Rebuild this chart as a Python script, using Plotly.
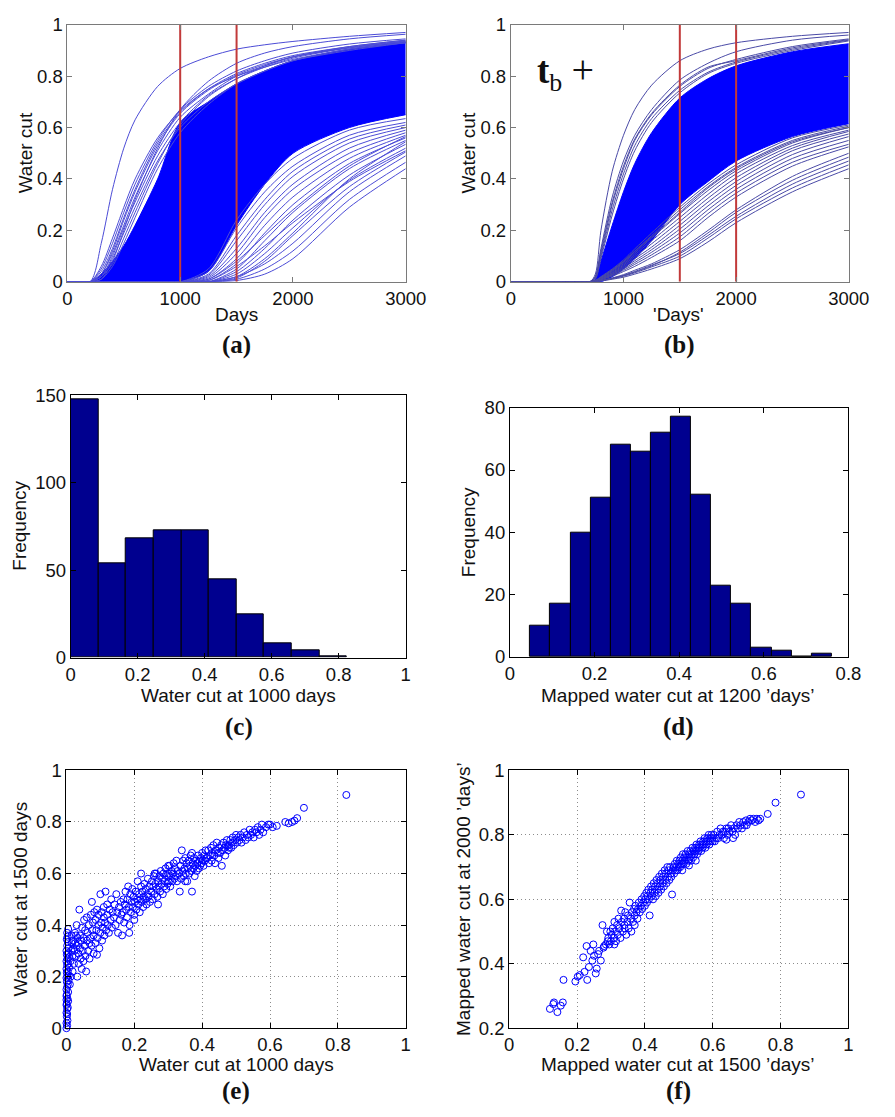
import plotly.graph_objects as go

W, H = 895, 1117

# ---------------- data ----------------
# (a) water-cut curves vs days
A_DAYS = [0, 200, 300, 400, 500, 600, 800, 1000, 1250, 1500, 1750, 2000, 2500, 3000]
A_BAND_LOW = [0, 0, 0, 0, 0, 0, 0, 0, 0.04, 0.22, 0.38, 0.50, 0.60, 0.65]
A_BAND_HIGH = [0, 0, 0.03, 0.08, 0.14, 0.22, 0.40, 0.62, 0.70, 0.77, 0.82, 0.86, 0.905, 0.932]
A_UPPER_CURVES = [
    [0, 0, 0.15, 0.36, 0.52, 0.63, 0.76, 0.83, 0.875, 0.905, 0.922, 0.935, 0.955, 0.97],
    [0, 0, 0.01, 0.08, 0.20, 0.32, 0.52, 0.67, 0.78, 0.85, 0.89, 0.915, 0.945, 0.963],
    [0, 0, 0.02, 0.09, 0.19, 0.29, 0.47, 0.60, 0.70, 0.77, 0.82, 0.86, 0.90, 0.93],
    [0, 0, 0.03, 0.11, 0.22, 0.33, 0.51, 0.64, 0.73, 0.80, 0.84, 0.875, 0.91, 0.935],
    [0, 0, 0.01, 0.06, 0.15, 0.25, 0.44, 0.58, 0.69, 0.77, 0.82, 0.86, 0.905, 0.93],
    [0, 0, 0.04, 0.13, 0.25, 0.36, 0.54, 0.66, 0.75, 0.81, 0.85, 0.88, 0.915, 0.94],
    [0, 0, 0.02, 0.10, 0.21, 0.31, 0.49, 0.62, 0.725, 0.79, 0.835, 0.87, 0.91, 0.935],
    [0, 0, 0.05, 0.15, 0.27, 0.38, 0.55, 0.67, 0.76, 0.82, 0.86, 0.89, 0.925, 0.945],
    [0, 0, 0.03, 0.12, 0.24, 0.35, 0.53, 0.655, 0.745, 0.805, 0.845, 0.875, 0.912, 0.937],
    [0, 0, 0.02, 0.07, 0.17, 0.27, 0.46, 0.61, 0.72, 0.79, 0.84, 0.875, 0.915, 0.94],
    [0, 0, 0.06, 0.17, 0.29, 0.40, 0.56, 0.665, 0.75, 0.80, 0.835, 0.865, 0.905, 0.93],
]
A_LOWER_CURVES = [
    [0, 0, 0, 0, 0, 0, 0, 0, 0, 0.005, 0.03, 0.09, 0.29, 0.44],
    [0, 0, 0, 0, 0, 0, 0, 0, 0, 0.01, 0.05, 0.12, 0.32, 0.465],
    [0, 0, 0, 0, 0, 0, 0, 0, 0, 0.02, 0.07, 0.15, 0.35, 0.49],
    [0, 0, 0, 0, 0, 0, 0, 0, 0, 0.015, 0.08, 0.18, 0.37, 0.505],
    [0, 0, 0, 0, 0, 0, 0, 0, 0, 0.03, 0.11, 0.21, 0.395, 0.52],
    [0, 0, 0, 0, 0, 0, 0, 0, 0, 0.04, 0.13, 0.24, 0.415, 0.535],
    [0, 0, 0, 0, 0, 0, 0, 0, 0, 0.05, 0.16, 0.27, 0.44, 0.55],
    [0, 0, 0, 0, 0, 0, 0, 0, 0.005, 0.07, 0.19, 0.30, 0.46, 0.56],
    [0, 0, 0, 0, 0, 0, 0, 0, 0.01, 0.09, 0.22, 0.33, 0.48, 0.57],
    [0, 0, 0, 0, 0, 0, 0, 0, 0.015, 0.11, 0.25, 0.36, 0.50, 0.58],
    [0, 0, 0, 0, 0, 0, 0, 0, 0.02, 0.13, 0.27, 0.38, 0.52, 0.59],
    [0, 0, 0, 0, 0, 0, 0, 0, 0.025, 0.16, 0.30, 0.41, 0.54, 0.60],
    [0, 0, 0, 0, 0, 0, 0, 0, 0.03, 0.18, 0.32, 0.43, 0.555, 0.61],
    [0, 0, 0, 0, 0, 0, 0, 0, 0.04, 0.21, 0.35, 0.45, 0.57, 0.62],
    [0, 0, 0, 0, 0, 0, 0, 0, 0.005, 0.06, 0.14, 0.23, 0.39, 0.51],
    [0, 0, 0, 0, 0, 0, 0, 0, 0, 0.02, 0.09, 0.19, 0.40, 0.545],
    [0, 0, 0, 0, 0, 0, 0, 0, 0.01, 0.08, 0.18, 0.28, 0.45, 0.565],
    [0, 0, 0, 0, 0, 0, 0, 0, 0.05, 0.24, 0.38, 0.48, 0.59, 0.635],
]
A_MARK_DAYS = [1000, 1500]

# (b) water-cut curves vs mapped 'days'
B_DAYS = [0, 700, 750, 800, 900, 1000, 1100, 1250, 1500, 1750, 2000, 2500, 3000]
B_BAND_LOW = [0, 0, 0, 0, 0.02, 0.05, 0.09, 0.16, 0.30, 0.39, 0.47, 0.565, 0.615]
B_BAND_HIGH = [0, 0, 0.01, 0.08, 0.22, 0.35, 0.46, 0.58, 0.715, 0.79, 0.84, 0.895, 0.926]
B_UPPER_CURVES = [
    [0, 0, 0.03, 0.20, 0.43, 0.57, 0.67, 0.765, 0.86, 0.905, 0.93, 0.955, 0.97],
    [0, 0, 0.02, 0.13, 0.33, 0.47, 0.57, 0.67, 0.785, 0.85, 0.895, 0.94, 0.96],
    [0, 0, 0.02, 0.11, 0.30, 0.44, 0.55, 0.65, 0.76, 0.83, 0.865, 0.915, 0.945],
    [0, 0, 0.015, 0.10, 0.28, 0.42, 0.53, 0.635, 0.745, 0.815, 0.855, 0.905, 0.94],
    [0, 0, 0.02, 0.12, 0.31, 0.45, 0.555, 0.655, 0.765, 0.835, 0.86, 0.91, 0.942],
    [0, 0, 0.01, 0.09, 0.26, 0.40, 0.51, 0.62, 0.735, 0.81, 0.85, 0.90, 0.937],
]
B_LOWER_CURVES = [
    [0, 0, 0, 0.003, 0.01, 0.018, 0.03, 0.05, 0.09, 0.155, 0.23, 0.35, 0.44],
    [0, 0, 0, 0.004, 0.012, 0.022, 0.035, 0.058, 0.10, 0.17, 0.245, 0.365, 0.455],
    [0, 0, 0, 0.005, 0.014, 0.025, 0.04, 0.065, 0.11, 0.18, 0.255, 0.38, 0.47],
    [0, 0, 0, 0.004, 0.013, 0.024, 0.038, 0.062, 0.115, 0.19, 0.27, 0.395, 0.485],
    [0, 0, 0, 0.005, 0.015, 0.028, 0.045, 0.07, 0.125, 0.20, 0.28, 0.41, 0.50],
    [0, 0, 0.002, 0.008, 0.022, 0.04, 0.06, 0.095, 0.16, 0.25, 0.33, 0.45, 0.525],
    [0, 0, 0.002, 0.009, 0.025, 0.045, 0.068, 0.105, 0.175, 0.265, 0.345, 0.465, 0.535],
    [0, 0, 0.003, 0.01, 0.028, 0.05, 0.075, 0.115, 0.19, 0.28, 0.36, 0.48, 0.55],
    [0, 0, 0.003, 0.011, 0.03, 0.055, 0.082, 0.125, 0.205, 0.295, 0.375, 0.495, 0.565],
    [0, 0, 0.003, 0.012, 0.033, 0.06, 0.09, 0.135, 0.22, 0.31, 0.39, 0.51, 0.575],
    [0, 0, 0.004, 0.013, 0.036, 0.065, 0.098, 0.148, 0.235, 0.325, 0.405, 0.52, 0.585],
    [0, 0, 0.004, 0.015, 0.04, 0.07, 0.105, 0.16, 0.25, 0.34, 0.42, 0.53, 0.59],
    [0, 0, 0.004, 0.016, 0.043, 0.075, 0.112, 0.17, 0.265, 0.355, 0.432, 0.54, 0.60],
    [0, 0, 0.005, 0.018, 0.047, 0.08, 0.12, 0.18, 0.28, 0.37, 0.445, 0.55, 0.605],
    [0, 0, 0.005, 0.02, 0.05, 0.085, 0.128, 0.19, 0.29, 0.38, 0.455, 0.56, 0.61],
    [0, 0, 0.005, 0.017, 0.045, 0.078, 0.118, 0.175, 0.27, 0.365, 0.44, 0.545, 0.60],
]
B_MARK_DAYS = [1500, 2000]

# (c) histogram: water cut at 1000 days
C_EDGES = [0, 0.0825, 0.165, 0.2475, 0.33, 0.4125, 0.495, 0.5775, 0.66, 0.7425, 0.825]
C_COUNTS = [148, 54, 68, 73, 73, 45, 25, 8, 4, 1]

# (d) histogram: mapped water cut at 1200 'days'
D_EDGES = [0.048, 0.0955, 0.143, 0.1905, 0.238, 0.2855, 0.333, 0.3805, 0.428,
           0.4755, 0.523, 0.5705, 0.618, 0.6655, 0.713, 0.7605]
D_COUNTS = [10, 17, 40, 51, 68, 66, 72, 77, 52, 23, 17, 3, 2, 0, 1]

# (e) scatter: water cut at 1000 days vs 1500 days
E_POINTS = [
    (0.0, 0.0), (0.002, 0.01), (0.0, 0.02), (0.003, 0.03), (0.001, 0.045), (0.0, 0.06), (0.002, 0.075),
    (0.004, 0.08), (0.001, 0.095), (0.0, 0.11), (0.003, 0.115), (0.001, 0.13), (0.005, 0.14), (0.0, 0.15),
    (0.002, 0.16), (0.004, 0.17), (0.001, 0.18), (0.006, 0.185), (0.0, 0.195), (0.003, 0.2), (0.007, 0.205),
    (0.001, 0.215), (0.004, 0.22), (0.0, 0.23), (0.008, 0.235), (0.002, 0.245), (0.005, 0.25), (0.0, 0.26),
    (0.003, 0.27), (0.007, 0.275), (0.001, 0.285), (0.004, 0.29), (0.0, 0.3), (0.006, 0.31), (0.002, 0.32),
    (0.004, 0.335), (0.001, 0.345), (0.003, 0.355), (0.002, 0.37), (0.005, 0.385), (0.0, 0.125), (0.002, 0.055),
    (0.0, 0.09), (0.005, 0.105),
    (0.01, 0.17), (0.012, 0.2), (0.012, 0.26), (0.014, 0.3), (0.015, 0.33), (0.015, 0.36), (0.018, 0.22),
    (0.018, 0.28), (0.02, 0.31), (0.02, 0.34), (0.022, 0.25), (0.024, 0.3), (0.025, 0.37), (0.026, 0.33),
    (0.028, 0.28), (0.03, 0.32), (0.03, 0.4), (0.032, 0.2), (0.033, 0.35), (0.035, 0.29), (0.036, 0.33),
    (0.038, 0.46), (0.04, 0.31), (0.04, 0.36), (0.042, 0.27), (0.044, 0.34), (0.045, 0.23), (0.046, 0.39),
    (0.048, 0.3), (0.05, 0.35), (0.052, 0.42), (0.054, 0.32), (0.055, 0.38), (0.056, 0.28), (0.058, 0.22),
    (0.06, 0.34), (0.06, 0.43), (0.062, 0.37), (0.064, 0.3), (0.066, 0.4), (0.068, 0.27), (0.07, 0.35),
    (0.072, 0.44), (0.074, 0.32), (0.075, 0.49), (0.076, 0.38), (0.078, 0.41), (0.08, 0.29), (0.08, 0.36),
    (0.082, 0.45), (0.05, 0.26), (0.028, 0.36), (0.036, 0.25), (0.068, 0.33),
    (0.085, 0.33), (0.086, 0.42), (0.088, 0.38), (0.09, 0.46), (0.09, 0.285), (0.092, 0.35), (0.094, 0.4),
    (0.095, 0.44), (0.097, 0.31), (0.1, 0.37), (0.1, 0.52), (0.102, 0.41), (0.104, 0.45), (0.105, 0.34),
    (0.107, 0.39), (0.11, 0.43), (0.11, 0.47), (0.112, 0.36), (0.114, 0.41), (0.115, 0.53), (0.117, 0.38),
    (0.12, 0.44), (0.12, 0.48), (0.122, 0.4), (0.125, 0.37), (0.127, 0.46), (0.13, 0.42), (0.132, 0.5),
    (0.134, 0.39), (0.136, 0.45), (0.14, 0.43), (0.142, 0.48), (0.145, 0.4), (0.147, 0.52), (0.15, 0.45),
    (0.152, 0.37), (0.155, 0.47), (0.157, 0.42), (0.16, 0.49), (0.162, 0.44), (0.164, 0.36),
    (0.166, 0.45), (0.168, 0.5), (0.17, 0.41), (0.172, 0.48), (0.174, 0.53), (0.176, 0.46), (0.178, 0.43),
    (0.18, 0.5), (0.182, 0.55), (0.184, 0.47), (0.186, 0.4), (0.188, 0.52), (0.19, 0.45), (0.192, 0.49),
    (0.194, 0.54), (0.196, 0.47), (0.198, 0.51), (0.2, 0.44), (0.202, 0.49), (0.204, 0.53), (0.206, 0.46),
    (0.208, 0.5), (0.21, 0.57), (0.212, 0.48), (0.214, 0.52), (0.216, 0.45), (0.218, 0.5), (0.22, 0.55),
    (0.222, 0.49), (0.224, 0.53), (0.226, 0.47), (0.228, 0.51), (0.23, 0.56), (0.232, 0.5), (0.234, 0.54),
    (0.236, 0.48), (0.238, 0.52), (0.24, 0.58), (0.242, 0.51), (0.244, 0.55), (0.246, 0.49), (0.185, 0.37),
    (0.2, 0.42), (0.22, 0.6),
    (0.25, 0.53), (0.252, 0.57), (0.254, 0.5), (0.256, 0.55), (0.258, 0.59), (0.26, 0.52), (0.262, 0.56),
    (0.264, 0.6), (0.266, 0.54), (0.268, 0.51), (0.27, 0.57), (0.272, 0.55), (0.274, 0.59), (0.276, 0.53),
    (0.278, 0.61), (0.28, 0.56), (0.282, 0.58), (0.284, 0.52), (0.286, 0.6), (0.288, 0.55), (0.29, 0.57),
    (0.292, 0.62), (0.294, 0.54), (0.296, 0.59), (0.298, 0.56), (0.3, 0.6), (0.302, 0.57), (0.304, 0.63),
    (0.306, 0.55), (0.308, 0.59), (0.31, 0.61), (0.312, 0.57), (0.314, 0.6), (0.316, 0.64), (0.318, 0.58),
    (0.32, 0.62), (0.322, 0.59), (0.324, 0.65), (0.326, 0.57), (0.328, 0.61), (0.27, 0.48), (0.3, 0.63),
    (0.26, 0.6),
    (0.332, 0.6), (0.334, 0.53), (0.336, 0.63), (0.338, 0.58), (0.34, 0.69), (0.342, 0.61), (0.344, 0.65),
    (0.346, 0.59), (0.348, 0.62), (0.35, 0.66), (0.352, 0.6), (0.354, 0.64), (0.356, 0.57), (0.358, 0.62),
    (0.36, 0.65), (0.362, 0.6), (0.364, 0.63), (0.366, 0.67), (0.368, 0.61), (0.37, 0.53), (0.372, 0.64),
    (0.374, 0.62), (0.376, 0.66), (0.378, 0.59), (0.38, 0.63), (0.382, 0.65), (0.384, 0.61), (0.386, 0.64),
    (0.388, 0.67), (0.39, 0.62), (0.392, 0.65), (0.394, 0.63), (0.396, 0.66), (0.398, 0.64), (0.4, 0.68),
    (0.402, 0.65), (0.404, 0.63), (0.406, 0.67), (0.408, 0.65), (0.41, 0.69), (0.412, 0.66), (0.35, 0.57),
    (0.37, 0.68),
    (0.415, 0.66), (0.418, 0.69), (0.42, 0.64), (0.423, 0.67), (0.426, 0.7), (0.428, 0.65), (0.43, 0.68),
    (0.433, 0.71), (0.436, 0.67), (0.438, 0.64), (0.44, 0.69), (0.443, 0.72), (0.446, 0.68), (0.448, 0.66),
    (0.45, 0.7), (0.453, 0.68), (0.456, 0.71), (0.458, 0.63), (0.46, 0.69), (0.463, 0.72), (0.466, 0.7),
    (0.468, 0.67), (0.47, 0.71), (0.473, 0.73), (0.476, 0.69), (0.478, 0.71), (0.48, 0.7), (0.483, 0.73),
    (0.486, 0.7), (0.488, 0.72), (0.49, 0.74), (0.493, 0.71),
    (0.497, 0.73), (0.5, 0.75), (0.503, 0.72), (0.506, 0.74), (0.51, 0.73), (0.513, 0.75), (0.516, 0.72),
    (0.52, 0.74), (0.524, 0.76), (0.528, 0.73), (0.532, 0.75), (0.536, 0.74), (0.54, 0.77), (0.544, 0.75),
    (0.548, 0.76), (0.552, 0.74), (0.556, 0.77), (0.56, 0.76), (0.564, 0.78), (0.568, 0.75), (0.572, 0.77),
    (0.576, 0.79),
    (0.58, 0.76), (0.588, 0.78), (0.595, 0.79), (0.6, 0.79), (0.608, 0.78), (0.62, 0.785), (0.645, 0.8),
    (0.655, 0.795), (0.665, 0.8), (0.672, 0.805), (0.68, 0.815), (0.70, 0.855), (0.825, 0.905),
]

# (f) scatter: mapped water cut at 1500 'days' vs 2000 'days'
F_POINTS = [
    (0.12, 0.26), (0.13, 0.275), (0.132, 0.28), (0.142, 0.25), (0.152, 0.27), (0.158, 0.28), (0.16, 0.35),
    (0.195, 0.345), (0.202, 0.36), (0.208, 0.365), (0.218, 0.42), (0.222, 0.375), (0.228, 0.455), (0.23, 0.35),
    (0.235, 0.39), (0.24, 0.44), (0.245, 0.41), (0.248, 0.46), (0.25, 0.425), (0.255, 0.37), (0.258, 0.385),
    (0.262, 0.43), (0.265, 0.44), (0.27, 0.41), (0.275, 0.52), (0.278, 0.45), (0.28, 0.455), (0.285, 0.46),
    (0.288, 0.5), (0.29, 0.47),
    (0.292, 0.48), (0.295, 0.46), (0.298, 0.5), (0.3, 0.47), (0.302, 0.49), (0.305, 0.51), (0.308, 0.48),
    (0.31, 0.53), (0.312, 0.5), (0.315, 0.47), (0.318, 0.52), (0.32, 0.49), (0.322, 0.54), (0.325, 0.51),
    (0.328, 0.48), (0.33, 0.565), (0.332, 0.53), (0.335, 0.5), (0.338, 0.54), (0.34, 0.52), (0.342, 0.56),
    (0.345, 0.49), (0.348, 0.53), (0.35, 0.55), (0.352, 0.51), (0.355, 0.59), (0.358, 0.54), (0.36, 0.5),
    (0.362, 0.56), (0.365, 0.53), (0.368, 0.57), (0.37, 0.55), (0.372, 0.58), (0.375, 0.56), (0.378, 0.54),
    (0.38, 0.57), (0.382, 0.59), (0.385, 0.56), (0.388, 0.58), (0.39, 0.6), (0.392, 0.57), (0.395, 0.59),
    (0.398, 0.61), (0.4, 0.58), (0.34, 0.51), (0.31, 0.46), (0.37, 0.52),
    (0.402, 0.6), (0.404, 0.62), (0.406, 0.59), (0.408, 0.61), (0.41, 0.63), (0.412, 0.6), (0.414, 0.55),
    (0.416, 0.62), (0.418, 0.64), (0.42, 0.61), (0.422, 0.63), (0.424, 0.6), (0.426, 0.65), (0.428, 0.62),
    (0.43, 0.64), (0.432, 0.61), (0.434, 0.66), (0.436, 0.63), (0.438, 0.65), (0.44, 0.62), (0.442, 0.67),
    (0.444, 0.64), (0.446, 0.66), (0.448, 0.63), (0.45, 0.68), (0.452, 0.65), (0.454, 0.67), (0.456, 0.64),
    (0.458, 0.69), (0.46, 0.66), (0.462, 0.68), (0.464, 0.65), (0.466, 0.7), (0.468, 0.67), (0.47, 0.69),
    (0.472, 0.66), (0.474, 0.7), (0.476, 0.68), (0.478, 0.67), (0.48, 0.615), (0.482, 0.69), (0.484, 0.7),
    (0.486, 0.68), (0.488, 0.71), (0.49, 0.69), (0.492, 0.7), (0.494, 0.72), (0.496, 0.69), (0.498, 0.71),
    (0.5, 0.7),
    (0.502, 0.72), (0.504, 0.7), (0.506, 0.73), (0.508, 0.71), (0.51, 0.72), (0.512, 0.74), (0.514, 0.71),
    (0.516, 0.73), (0.518, 0.72), (0.52, 0.74), (0.522, 0.71), (0.524, 0.73), (0.526, 0.75), (0.528, 0.72),
    (0.53, 0.74), (0.532, 0.73), (0.534, 0.75), (0.536, 0.72), (0.538, 0.74), (0.54, 0.76), (0.542, 0.73),
    (0.544, 0.75), (0.546, 0.74), (0.548, 0.76), (0.55, 0.75), (0.552, 0.77), (0.554, 0.74), (0.556, 0.76),
    (0.558, 0.75), (0.56, 0.77), (0.562, 0.76), (0.564, 0.78), (0.566, 0.75), (0.568, 0.77), (0.57, 0.76),
    (0.572, 0.78), (0.574, 0.77), (0.576, 0.79), (0.578, 0.76), (0.58, 0.78), (0.582, 0.77), (0.584, 0.79),
    (0.586, 0.78), (0.588, 0.8), (0.59, 0.77), (0.592, 0.79), (0.594, 0.78), (0.596, 0.8), (0.598, 0.79),
    (0.6, 0.78), (0.51, 0.69), (0.53, 0.705), (0.55, 0.72),
    (0.603, 0.8), (0.606, 0.78), (0.61, 0.79), (0.613, 0.81), (0.616, 0.79), (0.62, 0.8), (0.623, 0.82),
    (0.626, 0.8), (0.63, 0.81), (0.633, 0.79), (0.636, 0.81), (0.64, 0.82), (0.643, 0.8), (0.646, 0.82),
    (0.65, 0.81), (0.654, 0.83), (0.658, 0.81), (0.662, 0.82), (0.666, 0.8), (0.67, 0.83), (0.674, 0.82),
    (0.678, 0.84), (0.682, 0.83), (0.686, 0.82), (0.69, 0.84), (0.694, 0.83), (0.698, 0.845), (0.7, 0.83),
    (0.66, 0.79), (0.64, 0.785),
    (0.705, 0.84), (0.71, 0.85), (0.715, 0.845), (0.72, 0.85), (0.725, 0.84), (0.73, 0.85), (0.735, 0.845),
    (0.74, 0.85), (0.762, 0.865), (0.785, 0.9), (0.86, 0.925),
]

# ---------------- layout helpers ----------------
FONT = "Liberation Sans, Arial, Helvetica, sans-serif"
SERIF = "Liberation Serif, Times New Roman, serif"


def dx(l, r):
    return [l / W, r / W]


def dy(t, b):
    return [1 - b / H, 1 - t / H]


PANELS = {
    "a": dict(l=64.3, r=412.7, t=14, b=276),
    "b": dict(l=521, r=869, t=14, b=276),
    "c": dict(l=67.7, r=412.7, t=391.7, b=659),
    "d": dict(l=520, r=868.7, t=404.3, b=658.3),
    "e": dict(l=63.3, r=412.7, t=774, b=1036.7),
    "f": dict(l=519.3, r=868.7, t=774, b=1036.7),
}


def axis(p, which, anchor, rng, tickvals, ticktext=None, color="black", grid=False):
    dom = dx(p["l"], p["r"]) if which == "x" else dy(p["t"], p["b"])
    d = dict(domain=dom, anchor=anchor, range=rng, tickmode="array", tickvals=tickvals,
             ticks="inside", ticklen=5, tickwidth=1, tickcolor=color,
             showline=True, linecolor=color, linewidth=1, mirror="ticks",
             showgrid=grid, gridcolor="#8c8c8c", gridwidth=1, griddash="1px,3px",
             zeroline=False, fixedrange=True,
             tickfont=dict(family=FONT, size=18.5, color="#111"))
    if ticktext is not None:
        d["ticktext"] = ticktext
    return d


def joined(xs, curves):
    X, Y = [], []
    for c in curves:
        X += list(xs) + [None]
        Y += list(c) + [None]
    return X, Y


fig = go.Figure()

ONE = [0, 0.2, 0.4, 0.6, 0.8, 1]
ONE_T = ["0", "0.2", "0.4", "0.6", "0.8", "1"]
DAYS_T = [0, 1000, 2000, 3000]

# ---- (a) and (b) curve panels ----
for key, xa, ya, days, lo, hi, ups, lows, marks, thin in [
    ("a", "x", "y", A_DAYS, A_BAND_LOW, A_BAND_HIGH, A_UPPER_CURVES, A_LOWER_CURVES, A_MARK_DAYS, "#4c4cd6"),
    ("b", "x2", "y2", B_DAYS, B_BAND_LOW, B_BAND_HIGH, B_UPPER_CURVES, B_LOWER_CURVES, B_MARK_DAYS, "#4a4aa6"),
]:
    fig.add_trace(go.Scatter(x=days, y=lo, mode="lines", xaxis=xa, yaxis=ya,
                             line=dict(color="#0000ff", width=1, shape="spline", smoothing=0.8),
                             showlegend=False, hoverinfo="skip"))
    fig.add_trace(go.Scatter(x=days, y=hi, mode="lines", xaxis=xa, yaxis=ya, fill="tonexty",
                             fillcolor="#0000ff",
                             line=dict(color="#0000ff", width=1, shape="spline", smoothing=0.8),
                             showlegend=False, hoverinfo="skip"))
    X, Y = joined(days, ups + lows)
    fig.add_trace(go.Scatter(x=X, y=Y, mode="lines", xaxis=xa, yaxis=ya,
                             line=dict(color=thin, width=1, shape="spline", smoothing=0.8),
                             showlegend=False, hoverinfo="skip"))
    mx, my = [], []
    for m in marks:
        mx += [m, m, None]
        my += [0, 1, None]
    fig.add_trace(go.Scatter(x=mx, y=my, mode="lines", xaxis=xa, yaxis=ya,
                             line=dict(color="#c23a3a", width=2),
                             showlegend=False, hoverinfo="skip"))

# ---- (c) and (d) histograms ----
for xa, ya, edges, counts in [("x3", "y3", C_EDGES, C_COUNTS), ("x4", "y4", D_EDGES, D_COUNTS)]:
    centers = [(edges[i] + edges[i + 1]) / 2 for i in range(len(counts))]
    widths = [edges[i + 1] - edges[i] for i in range(len(counts))]
    fig.add_trace(go.Bar(x=centers, y=counts, width=widths, xaxis=xa, yaxis=ya,
                         marker=dict(color="#00008f", line=dict(color="black", width=1)),
                         showlegend=False, hoverinfo="skip"))

# ---- (e) and (f) scatters ----
for xa, ya, pts in [("x5", "y5", E_POINTS), ("x6", "y6", F_POINTS)]:
    fig.add_trace(go.Scatter(x=[p[0] for p in pts], y=[p[1] for p in pts], mode="markers",
                             xaxis=xa, yaxis=ya, cliponaxis=False,
                             marker=dict(symbol="circle-open", size=7, color="#0000ff",
                                         line=dict(width=1, color="#0000ff")),
                             showlegend=False, hoverinfo="skip"))

P = PANELS
GRAY = "#7a7a7a"
layout = dict(
    width=W, height=H, margin=dict(l=0, r=0, t=0, b=0),
    paper_bgcolor="white", plot_bgcolor="white", showlegend=False, bargap=0,
    xaxis=axis(P["a"], "x", "y", [0, 3000], DAYS_T, ["0", "1000", "2000", "3000"], GRAY),
    yaxis=axis(P["a"], "y", "x", [0, 1], ONE, ONE_T, GRAY),
    xaxis2=axis(P["b"], "x", "y2", [0, 3000], DAYS_T, ["0", "1000", "2000", "3000"], GRAY),
    yaxis2=axis(P["b"], "y", "x2", [0, 1], ONE, ONE_T, GRAY),
    xaxis3=axis(P["c"], "x", "y3", [0, 1], ONE, ONE_T),
    yaxis3=axis(P["c"], "y", "x3", [0, 150], [0, 50, 100, 150], ["0", "50", "100", "150"]),
    xaxis4=axis(P["d"], "x", "y4", [0, 0.8], [0, 0.2, 0.4, 0.6, 0.8], ["0", "0.2", "0.4", "0.6", "0.8"]),
    yaxis4=axis(P["d"], "y", "x4", [0, 80], [0, 20, 40, 60, 80], ["0", "20", "40", "60", "80"]),
    xaxis5=axis(P["e"], "x", "y5", [0, 1], ONE, ONE_T, grid=True),
    yaxis5=axis(P["e"], "y", "x5", [0, 1], ONE, ONE_T, grid=True),
    xaxis6=axis(P["f"], "x", "y6", [0, 1], ONE, ONE_T, grid=True),
    yaxis6=axis(P["f"], "y", "x6", [0.2, 1], [0.2, 0.4, 0.6, 0.8, 1], ["0.2", "0.4", "0.6", "0.8", "1"], grid=True),
)
fig.update_layout(**layout)


def note(text, px, py, size=19, angle=0, family=FONT, xanchor="center"):
    fig.add_annotation(text=text, x=px / W, y=1 - py / H, xref="paper", yref="paper",
                       showarrow=False, textangle=angle, xanchor=xanchor, yanchor="middle",
                       font=dict(family=family, size=size, color="#111"))


# axis titles
note("Days", 238.5, 309)
note("Water cut", 20.7, 145, angle=-90)
note("'Days'", 694, 309)
note("Water cut", 477, 145, angle=-90)
note("Water cut at 1000 days", 240.5, 697.7)
note("Frequency", 15, 525, angle=-90)
note("Mapped water cut at 1200 ’days’", 693, 697.7)
note("Frequency", 477, 531, angle=-90)
note("Water cut at 1000 days", 238.5, 1074)
note("Water cut at 1500 days", 16, 905, angle=-90)
note("Mapped water cut at 1500 ’days’", 693, 1074)
note("Mapped water cut at 2000 ’days’", 472.7, 905, angle=-90)

# panel labels
for lab, px, py in [("(a)", 238.5, 340), ("(b)", 695, 340), ("(c)", 240.5, 730),
                    ("(d)", 694, 730), ("(e)", 238, 1101), ("(f)", 694, 1101)]:
    note("<b>" + lab + "</b>", px, py, size=25, family=SERIF)

# t_b + label in (b)
note("<b>t</b><sub>b</sub> <span style='font-size:40px'>+</span>", 546, 62, size=37,
     family=SERIF, xanchor="left")

fig.write_html("out.html")
